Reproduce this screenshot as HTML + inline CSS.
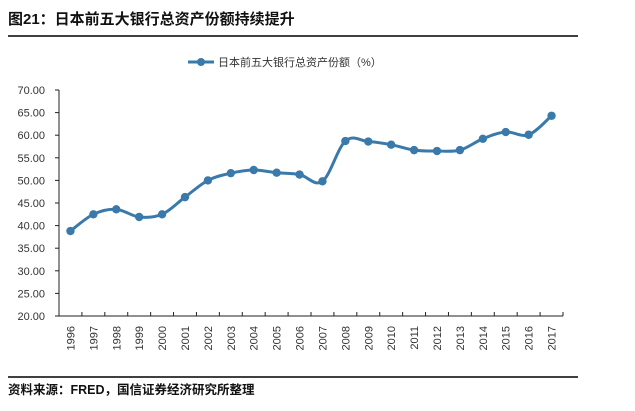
<!DOCTYPE html>
<html><head><meta charset="utf-8"><style>
body{margin:0;background:#fff;width:635px;height:406px;overflow:hidden;font-family:"Liberation Sans","Noto Sans CJK SC",sans-serif;}
</style></head><body>
<svg id="chart" width="635" height="406" xmlns="http://www.w3.org/2000/svg">
<text x="8" y="24" font-size="15" font-weight="bold" fill="#111" font-family="Liberation Sans, Noto Sans CJK SC, sans-serif">图21：日本前五大银行总资产份额持续提升</text>
<line x1="8" y1="36" x2="578" y2="36" stroke="#000" stroke-width="1.5"/>
<g>
<line x1="188" y1="62" x2="214" y2="62" stroke="#3a7aab" stroke-width="3"/>
<circle cx="201" cy="62" r="4" fill="#3a7aab"/>
<text x="218" y="66" font-size="11" fill="#333" font-family="Liberation Sans, Noto Sans CJK SC, sans-serif">日本前五大银行总资产份额（%）</text>
</g>
<g id="axes"></g>
<g id="series"></g>
<line x1="8" y1="377" x2="578" y2="377" stroke="#000" stroke-width="1.5"/>
<text x="8" y="394" font-size="12.5" font-weight="bold" fill="#111" font-family="Liberation Sans, Noto Sans CJK SC, sans-serif">资料来源：FRED，国信证券经济研究所整理</text>
</svg>
<script>
const categories=["1996","1997","1998","1999","2000","2001","2002","2003","2004","2005","2006","2007","2008","2009","2010","2011","2012","2013","2014","2015","2016","2017"];
const values=[38.8,42.5,43.6,41.9,42.5,46.3,50.0,51.6,52.3,51.7,51.3,49.8,58.7,58.6,57.9,56.7,56.5,56.7,59.2,60.7,60.1,64.3];
const yTicks=[20,25,30,35,40,45,50,55,60,65,70];
const NS="http://www.w3.org/2000/svg";
const x0=59,x1=563,yTop=90,yBot=316,ymin=20,ymax=70;
const bw=(x1-x0)/categories.length;
const xs=i=>x0+bw*(i+0.5);
const ys=v=>yBot-(v-ymin)/(ymax-ymin)*(yBot-yTop);
const axes=document.getElementById('axes'),ser=document.getElementById('series');
function mk(t,a,p){const e=document.createElementNS(NS,t);for(const k in a)e.setAttribute(k,a[k]);p.appendChild(e);return e;}
let e=mk('line',{x1:x0,y1:yTop,x2:x0,y2:yBot,stroke:'#222','stroke-width':1},axes);


e=mk('line',{x1:x0,y1:yBot,x2:x1,y2:yBot,stroke:'#222','stroke-width':1},axes);


yTicks.forEach(v=>{
 const y=ys(v);
 let t=mk('line',{x1:x0-4,y1:y,x2:x0,y2:y,stroke:'#222'},axes);
 
 
 let l=mk('text',{x:x0-14,y:y+4,'font-size':11,'text-anchor':'end',fill:'#333'},axes);
 l.textContent=v.toFixed(2);
 
 
});
for(let i=0;i<=categories.length;i++){
 const x=x0+bw*i;
 let t=mk('line',{x1:x,y1:yBot,x2:x,y2:yBot-4,stroke:'#222'},axes);
 
 
}
categories.forEach((c,i)=>{
 const x=xs(i);
 let l=mk('text',{x:0,y:0,'font-size':11,'text-anchor':'end',fill:'#333',transform:`translate(${x+4},${yBot+10}) rotate(-90)`},axes);
 l.textContent=c;
 
 
});
const pts=values.map((v,i)=>[xs(i),ys(v)]);
let d='M'+pts[0][0]+','+pts[0][1];
for(let i=0;i<pts.length-1;i++){
 const p0=pts[Math.max(0,i-1)],p1=pts[i],p2=pts[i+1],p3=pts[Math.min(pts.length-1,i+2)];
 const t=0.17;
 d+=' C'+(p1[0]+(p2[0]-p0[0])*t)+','+(p1[1]+(p2[1]-p0[1])*t)+' '+(p2[0]-(p3[0]-p1[0])*t)+','+(p2[1]-(p3[1]-p1[1])*t)+' '+p2[0]+','+p2[1];
}
let p=mk('path',{d:d,fill:'none',stroke:'#3a7aab','stroke-width':3,'stroke-linejoin':'round'},ser);


values.forEach((v,i)=>{
 let c=mk('circle',{cx:xs(i),cy:ys(v),r:4.2,fill:'#3a7aab'},ser);
 
 
});
</script>
</body></html>
